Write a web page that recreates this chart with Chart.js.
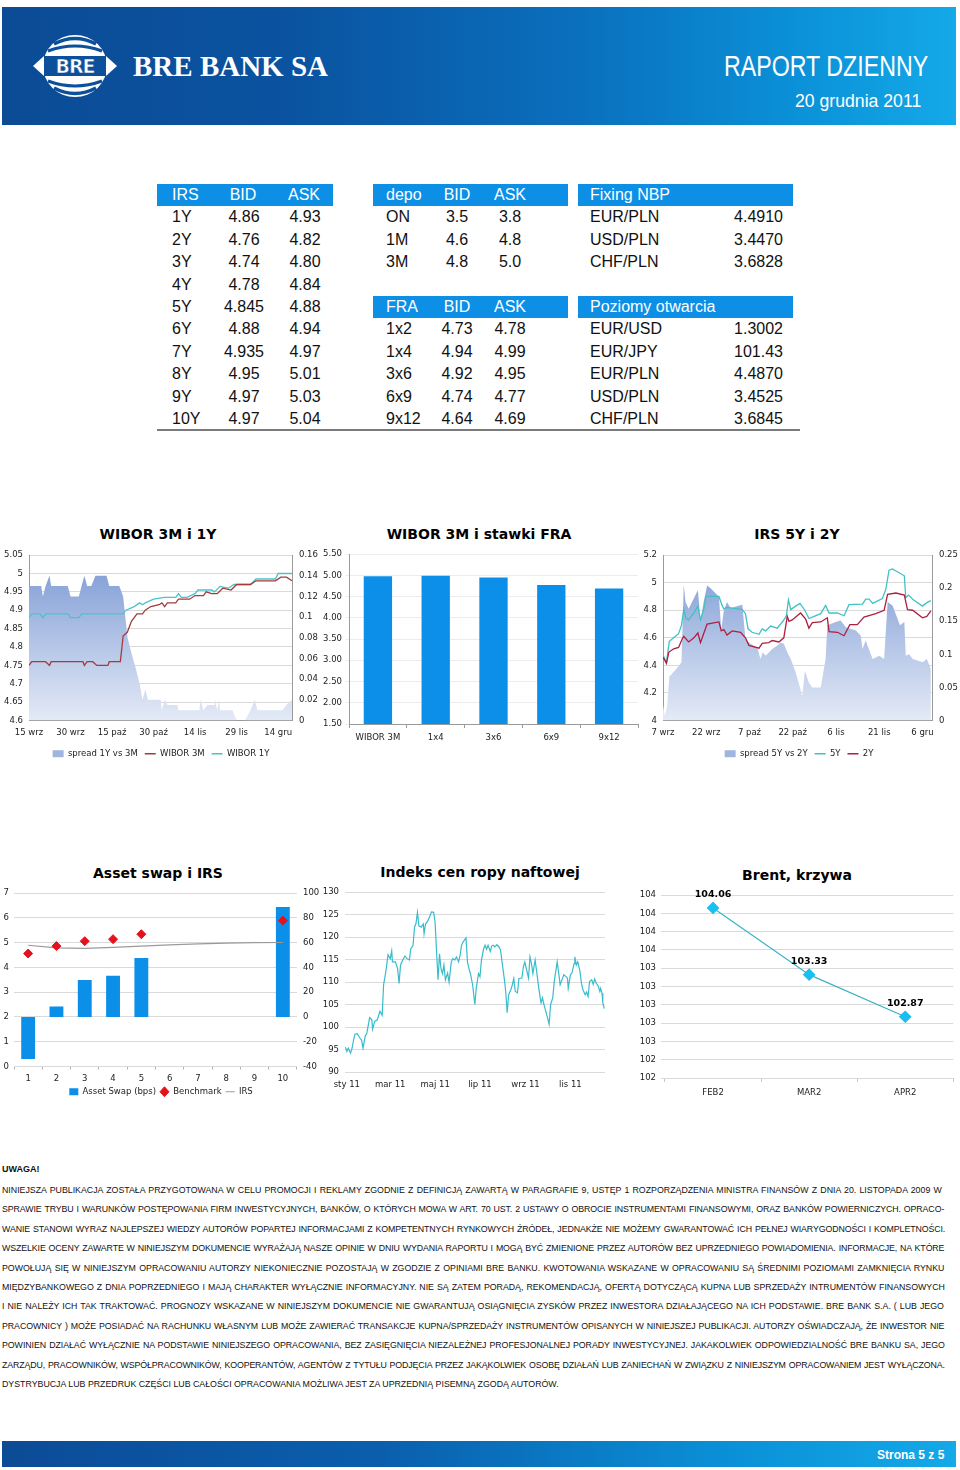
<!DOCTYPE html>
<html>
<head>
<meta charset="utf-8">
<script src="https://cdn.jsdelivr.net/npm/chart.js@4.4.1/dist/chart.umd.min.js"></script>
<style>
  body { margin:0; background:#fff; width:960px; height:1470px; position:relative; overflow:hidden;
         font-family:'Liberation Sans', Arial, sans-serif; }
  .abs { position:absolute; }
  #banner { left:2px; top:7px; width:954px; height:118px;
            background:linear-gradient(90deg,#0c4b96 0%,#0a53a0 30%,#0a6fbd 60%,#0a8fd6 82%,#14a9e8 100%); }
  #footer { left:2px; top:1441px; width:954px; height:26px;
            background:linear-gradient(90deg,#0c4b96 0%,#0a5fad 40%,#0a8fd6 75%,#14a9e8 100%); }
  .hd { background:#0d8fe6; height:22px; }
  .cell { font-size:16px; line-height:22px; height:22px; white-space:nowrap; color:#111; }
  .cell.w { color:#fff; }
  .ttl { font-family:'DejaVu Sans', Verdana, sans-serif; font-weight:bold; font-size:14px;
         transform:translateX(-50%); white-space:nowrap; color:#000; }
  .chart { position:absolute; }
  .disc { left:2px; font-size:8.8px; white-space:nowrap; color:#111; line-height:12px; }
</style>
</head>
<body>

<div id="banner" class="abs"></div>
<svg class="abs" style="left:32px;top:33px" width="86" height="66" viewBox="0 0 86 66">
  <ellipse cx="43" cy="33" rx="32" ry="31" fill="#fff"/>
  <path d="M22 11 Q43 0 64 11" stroke="#0c4f9b" stroke-width="3.5" fill="none"/>
  <path d="M16 18 Q43 8 70 18" stroke="#0c4f9b" stroke-width="3" fill="none"/>
  <path d="M16 48 Q43 58 70 48" stroke="#0c4f9b" stroke-width="3" fill="none"/>
  <path d="M22 55 Q43 66 64 55" stroke="#0c4f9b" stroke-width="3.5" fill="none"/>
  <rect x="12" y="23" width="62" height="20" fill="#0c4f9b"/>
  <polygon points="1,33 12,23 12,43" fill="#fff"/>
  <polygon points="85,33 74,23 74,43" fill="#fff"/>
  <text x="43" y="40" text-anchor="middle" font-family="DejaVu Sans" font-weight="bold" font-size="19"
        fill="#fff" stroke="#0c4f9b" stroke-width="0.6" letter-spacing="-1">BRE</text>
</svg>
<div class="abs" style="left:133px;top:50px;font-family:'Liberation Serif',serif;font-weight:bold;font-size:29px;color:#fff;white-space:nowrap;">BRE BANK SA</div>
<div class="abs" style="left:724px;top:50px;font-size:29px;color:#fff;white-space:nowrap;transform:scaleX(0.8);transform-origin:left top;">RAPORT DZIENNY</div>
<div class="abs" style="left:795px;top:91px;font-size:18px;color:#fff;white-space:nowrap;transform:scaleX(0.98);transform-origin:left top;">20 grudnia 2011</div>

<div id="tables"></div>
<div class="abs" style="left:157px;top:429px;width:643px;height:2px;background:#7a7a7a;"></div>

<div class="abs ttl" style="left:158px;top:526px;">WIBOR 3M i 1Y</div>
<div class="abs ttl" style="left:479px;top:526px;">WIBOR 3M i stawki FRA</div>
<div class="abs ttl" style="left:797px;top:526px;">IRS 5Y i 2Y</div>
<div class="abs ttl" style="left:158px;top:865px;">Asset swap i IRS</div>
<div class="abs ttl" style="left:480px;top:864px;">Indeks cen ropy naftowej</div>
<div class="abs ttl" style="left:797px;top:867px;">Brent, krzywa</div>

<div class="chart" style="left:0px;top:543px;width:322px;height:225px;"><canvas id="c1"></canvas></div>
<div class="chart" style="left:320px;top:545px;width:320px;height:205px;"><canvas id="c2"></canvas></div>
<div class="chart" style="left:638px;top:543px;width:322px;height:225px;"><canvas id="c3"></canvas></div>
<div class="chart" style="left:0px;top:882px;width:322px;height:224px;"><canvas id="c4"></canvas></div>
<div class="chart" style="left:318px;top:881px;width:300px;height:215px;"><canvas id="c5"></canvas></div>
<div class="chart" style="left:638px;top:885px;width:322px;height:215px;"><canvas id="c6"></canvas></div>

<div class="abs" style="left:2px;top:1164px;font-size:9px;font-weight:bold;color:#111;">UWAGA!</div>
<div id="disclaimer"></div>

<div id="footer" class="abs"></div>
<div class="abs" style="left:877px;top:1448px;font-size:12px;font-weight:bold;color:#fff;white-space:nowrap;">Strona 5 z 5</div>

<script>
// ---- tables ----
const irsTenor = ['1Y','2Y','3Y','4Y','5Y','6Y','7Y','8Y','9Y','10Y'];
const irsBid   = ['4.86','4.76','4.74','4.78','4.845','4.88','4.935','4.95','4.97','4.97'];
const irsAsk   = ['4.93','4.82','4.80','4.84','4.88','4.94','4.97','5.01','5.03','5.04'];

const depoTenor = ['ON','1M','3M'];
const depoBid   = ['3.5','4.6','4.8'];
const depoAsk   = ['3.8','4.8','5.0'];

const fraTenor = ['1x2','1x4','3x6','6x9','9x12'];
const fraBid   = ['4.73','4.94','4.92','4.74','4.64'];
const fraAsk   = ['4.78','4.99','4.95','4.77','4.69'];

const fixPairs = ['EUR/PLN','USD/PLN','CHF/PLN'];
const fixVals  = ['4.4910','3.4470','3.6828'];

const openPairs = ['EUR/USD','EUR/JPY','EUR/PLN','USD/PLN','CHF/PLN'];
const openVals  = ['1.3002','101.43','4.4870','3.4525','3.6845'];

// ---- WIBOR 3M i 1Y (days from 15 wrz) ----
const w1XTicks = ['15 wrz','30 wrz','15 paź','30 paź','14 lis','29 lis','14 gru'];
const w1LeftTicks  = ['4.6','4.65','4.7','4.75','4.8','4.85','4.9','4.95','5','5.05'];
const w1RightTicks = ['0','0.02','0.04','0.06','0.08','0.1','0.12','0.14','0.16'];
const w3mDays = [0,1,6,7.4,8,19.5,20,21,23,24.5,28.5,29,33,34,35.5,37,39,41,42,44,47,48,49,50,53,54,58,60,63,64,66,68,70,73,75,80,82,89,91,93,95];
const w3mVals = [4.75,4.76,4.76,4.75,4.76,4.76,4.75,4.76,4.76,4.75,4.75,4.76,4.76,4.83,4.84,4.87,4.89,4.89,4.90,4.91,4.915,4.92,4.91,4.92,4.92,4.93,4.93,4.94,4.94,4.95,4.945,4.945,4.96,4.955,4.97,4.97,4.98,4.98,4.99,4.99,4.98];
const w1yDays = [0,1,4,5,6,14,15,18,19,34,35,38,40,41,42,45,49,53,54,55,57,60,61,66,67,69,72,74,80,82,89,90,95];
const w1yVals = [4.88,4.89,4.89,4.88,4.89,4.89,4.88,4.88,4.89,4.89,4.90,4.91,4.92,4.915,4.92,4.93,4.935,4.935,4.945,4.935,4.935,4.945,4.955,4.955,4.95,4.965,4.96,4.97,4.97,4.985,4.985,5.0,5.0];
const wSpreadDays = [0,4.4,5,6,7.4,8,14,15,18,19,20,21,22.5,24,28,29,32.6,34,35.6,37,38.6,40,41,42,43,47.6,48,49,50,53.6,54,61.5,62,63,64.5,67,67.2,68,68.7,69,73.5,75,78,80,81.6,82.5,91.5,93,95];
const wSpreadVals = [0.13,0.13,0.12,0.13,0.14,0.13,0.13,0.12,0.12,0.13,0.14,0.13,0.13,0.14,0.14,0.13,0.13,0.12,0.08,0.065,0.05,0.035,0.02,0.03,0.02,0.02,0.01,0.02,0.015,0.015,0.01,0.01,0.02,0.01,0.015,0.015,0.02,0.01,0.02,0.01,0.01,0,0,0.01,0.02,0.01,0.01,0.015,0.02];

// ---- WIBOR 3M i stawki FRA ----
const fraCats = ['WIBOR 3M','1x4','3x6','6x9','9x12'];
const fraBars = [4.98, 4.99, 4.95, 4.77, 4.69];
const fraYTicks = ['1.50','2.00','2.50','3.00','3.50','4.00','4.50','5.00','5.50'];

// ---- IRS 5Y i 2Y (days from 7 wrz) ----
const irsXTicks = ['7 wrz','22 wrz','7 paź','22 paź','6 lis','21 lis','6 gru'];
const irsLeftTicks  = ['4','4.2','4.4','4.6','4.8','5','5.2'];
const irsRightTicks = ['0','0.05','0.1','0.15','0.2','0.25'];
const irs5Days = [0,1.2,2.2,3.7,5.4,6.4,7.2,8.0,8.9,10.7,12.1,13.0,14.1,14.9,19.4,20.5,21.1,22.2,27.5,28.6,29.5,30.9,33.3,34.4,35.6,37.3,39.6,41.6,42.8,43.5,44.3,46.0,47.5,49.2,50.6,51.8,54.7,56.4,57.6,60.5,62.8,64.5,69.2,70.3,71.5,72.7,76.1,77.3,78.4,79.6,83.7,84.2,85.2,86.6,90.0,91.5,92.9];
const irs5Vals = [4.475,4.42,4.575,4.60,4.63,4.69,4.805,4.74,4.73,4.78,4.83,4.73,4.805,4.90,4.90,4.835,4.81,4.82,4.805,4.775,4.665,4.64,4.625,4.665,4.65,4.685,4.67,4.72,4.76,4.875,4.805,4.83,4.85,4.80,4.74,4.75,4.775,4.835,4.78,4.78,4.76,4.84,4.845,4.88,4.88,4.85,4.885,4.955,5.09,5.10,5.05,4.89,4.91,4.88,4.83,4.855,4.87];
const irs2Days = [0,1.2,2.0,3.7,5.4,6.6,7.2,8.9,10.7,12.1,13.0,14.1,15.3,19.4,20.2,21.1,22.2,24.0,26.9,28.6,29.8,33.3,34.4,36.7,37.9,40.2,41.9,43.1,43.7,44.8,47.7,49.5,50.6,51.8,54.7,57.0,57.6,60.5,62.8,64.8,67.4,69.7,73.8,76.7,77.9,80.8,83.7,84.8,86.6,90.0,91.5,92.9];
const irs2Vals = [4.46,4.415,4.495,4.52,4.53,4.59,4.61,4.57,4.60,4.635,4.565,4.63,4.70,4.715,4.65,4.66,4.62,4.65,4.64,4.60,4.545,4.525,4.56,4.565,4.58,4.57,4.60,4.755,4.72,4.73,4.78,4.735,4.67,4.71,4.715,4.745,4.645,4.64,4.615,4.695,4.695,4.75,4.775,4.80,4.915,4.925,4.91,4.805,4.80,4.745,4.755,4.795];
const irsSpreadDays = [0,0.6,1.4,2.2,5.4,6.4,7.2,7.8,8.9,12.1,13.0,14.1,15.3,16.5,19.4,20.2,21.1,22.2,23.4,27.5,28.6,30.4,32.7,33.8,34.6,35.6,37.9,39.6,40.8,41.9,43.1,44.3,46.0,47.7,48.3,49.2,50.6,51.8,54.7,56.4,57.0,59.9,61.6,63.4,66.9,68.6,69.2,70.3,72.7,75.0,76.7,77.9,79.6,82.2,83.7,84.2,85.4,86.6,90.0,91.5,92.9];
const irsSpreadVals = [0.024,0.007,0.02,0.066,0.082,0.088,0.205,0.179,0.169,0.197,0.151,0.179,0.204,0.20,0.187,0.138,0.166,0.179,0.17,0.175,0.123,0.116,0.11,0.093,0.103,0.098,0.108,0.113,0.118,0.116,0.103,0.093,0.073,0.047,0.037,0.075,0.057,0.05,0.05,0.093,0.144,0.149,0.151,0.141,0.136,0.128,0.108,0.121,0.093,0.098,0.093,0.179,0.174,0.144,0.149,0.098,0.10,0.093,0.088,0.093,0.078];

// ---- Asset swap i IRS ----
const asCats = ['1','2','3','4','5','6','7','8','9','10'];
const asSwapBps = [-34, 8.4, 29.8, 33.2, 47.7, null, null, null, null, 88.8];
const asBenchmark = [4.56, 4.86, 5.06, 5.14, 5.34, null, null, null, null, 5.89];
const asIrs = [4.895, 4.79, 4.77, 4.81, 4.8625, 4.91, 4.9525, 4.98, 5.0, 5.005];
const asLeftTicks  = ['0','1','2','3','4','5','6','7'];
const asRightTicks = ['-40','-20','0','20','40','60','80','100'];

// ---- Indeks cen ropy naftowej (days from 1 sty 2011) ----
const oilTickDays = [0, 59, 120, 181, 243, 304];
const oilXTicks = ['sty 11','mar 11','maj 11','lip 11','wrz 11','lis 11'];
const oilYTicks = ['90','95','100','105','110','115','120','125','130'];
const oilDays = [-2,0,2,5,7,9,11,14,16,18,20,22,25,27,31,34,35,38,41,43,45,48,50,53,56,59,61,62,66,69,71,73,76,79,82,85,87,90,92,94,96,98,101,104,105,107,110,113,115,118,120,122,124,126,128,130,132,134,137,139,142,144,147,149,152,154,156,158,162,164,166,168,171,174,176,179,181,183,186,188,190,192,195,197,199,201,204,207,209,211,214,216,218,220,223,225,227,229,232,234,238,240,242,244,247,249,251,253,256,259,261,264,266,268,271,275,277,280,282,284,286,289,290,293,295,298,300,301,304,306,309,310,312,314,317,319,321,324,326,328,330,333,335,337,339,342,344,345,347,348,350];
const oilVals = [95.5,94.6,95.3,94.2,95.2,97.0,98.4,98.5,98.0,97.5,97.1,95.3,98.0,98.5,102.1,101.6,99.5,101.3,101.5,102.4,103.5,102.6,109.4,112.3,116.1,115.2,116.9,114.5,114.5,113.0,109.7,113.8,114.9,115.8,115.2,114.9,117.4,118.1,122.2,123.0,125.5,122.5,122.2,122.9,120.7,122.9,123.6,124.7,125.6,125.5,123.3,116.7,110.5,116.3,113.0,111.9,113.8,110.5,112.0,110.0,114.5,115.2,114.9,115.6,114.5,116.0,118.2,118.9,119.8,114.5,113.0,111.9,109.4,105.0,108.7,111.9,111.2,114.9,117.4,118.2,117.3,118.2,116.8,118.0,118.2,117.8,118.3,117.8,117.1,114.5,110.8,107.9,103.2,107.2,108.3,109.4,110.8,107.9,107.6,110.8,110.9,113.4,114.5,113.0,110.9,115.6,114.1,111.9,114.9,111.2,108.6,105.4,106.5,105.0,103.2,100.6,105.0,106.5,110.1,112.3,114.5,110.8,109.4,110.7,111.6,111.2,110.8,108.6,111.6,112.0,114.1,115.6,113.8,114.5,112.3,109.7,108.3,107.2,107.8,106.8,110.1,110.5,109.5,110.7,109.8,109.0,107.9,108.6,107.5,105.4,104.1];

// ---- Brent, krzywa ----
const brentCats = ['FEB2','MAR2','APR2'];
const brentVals = [104.06, 103.33, 102.87];
const brentYTicks = ['102','102','103','103','103','103','103','104','104','104','104'];

// ---- disclaimer ----
const discLines = [
  'NINIEJSZA PUBLIKACJA ZOSTAŁA PRZYGOTOWANA W CELU PROMOCJI I REKLAMY ZGODNIE Z DEFINICJĄ ZAWARTĄ W PARAGRAFIE 9, USTĘP 1 ROZPORZĄDZENIA MINISTRA FINANSÓW Z DNIA 20. LISTOPADA 2009 W',
  'SPRAWIE TRYBU I WARUNKÓW POSTĘPOWANIA FIRM INWESTYCYJNYCH, BANKÓW, O KTÓRYCH MOWA W ART. 70 UST. 2 USTAWY O OBROCIE INSTRUMENTAMI FINANSOWYMI, ORAZ BANKÓW POWIERNICZYCH. OPRACO-',
  'WANIE STANOWI WYRAZ NAJLEPSZEJ WIEDZY AUTORÓW POPARTEJ INFORMACJAMI Z KOMPETENTNYCH RYNKOWYCH ŹRÓDEŁ, JEDNAKŻE NIE MOŻEMY GWARANTOWAĆ ICH PEŁNEJ WIARYGODNOŚCI I KOMPLETNOŚCI.',
  'WSZELKIE OCENY ZAWARTE W NINIEJSZYM DOKUMENCIE WYRAŻAJĄ NASZE OPINIE W DNIU WYDANIA RAPORTU I MOGĄ BYĆ ZMIENIONE PRZEZ AUTORÓW BEZ UPRZEDNIEGO POWIADOMIENIA. INFORMACJE, NA KTÓRE',
  'POWOŁUJĄ SIĘ W NINIEJSZYM OPRACOWANIU AUTORZY NIEKONIECZNIE POZOSTAJĄ W ZGODZIE Z OPINIAMI BRE BANKU. KWOTOWANIA WSKAZANE W OPRACOWANIU SĄ ŚREDNIMI POZIOMAMI ZAMKNIĘCIA RYNKU',
  'MIĘDZYBANKOWEGO Z DNIA POPRZEDNIEGO I MAJĄ CHARAKTER WYŁĄCZNIE INFORMACYJNY. NIE SĄ ZATEM PORADĄ, REKOMENDACJĄ, OFERTĄ DOTYCZĄCĄ KUPNA LUB SPRZEDAŻY INTRUMENTÓW FINANSOWYCH',
  'I NIE NALEŻY ICH TAK TRAKTOWAĆ. PROGNOZY WSKAZANE W NINIEJSZYM DOKUMENCIE NIE GWARANTUJĄ OSIĄGNIĘCIA ZYSKÓW PRZEZ INWESTORA DZIAŁAJĄCEGO NA ICH PODSTAWIE. BRE BANK S.A. ( LUB JEGO',
  'PRACOWNICY ) MOŻE POSIADAĆ NA RACHUNKU WŁASNYM LUB MOŻE ZAWIERAĆ TRANSAKCJE KUPNA/SPRZEDAŻY INSTRUMENTÓW OPISANYCH W NINIEJSZEJ PUBLIKACJI. AUTORZY OŚWIADCZAJĄ, ŻE INWESTOR NIE',
  'POWINIEN DZIAŁAĆ WYŁĄCZNIE NA PODSTAWIE NINIEJSZEGO OPRACOWANIA, BEZ ZASIĘGNIĘCIA NIEZALEŻNEJ PROFESJONALNEJ PORADY INWESTYCYJNEJ. JAKAKOLWIEK ODPOWIEDZIALNOŚĆ BRE BANKU SA, JEGO',
  'ZARZĄDU, PRACOWNIKÓW, WSPÓŁPRACOWNIKÓW, KOOPERANTÓW, AGENTÓW Z TYTUŁU PODJĘCIA PRZEZ JAKĄKOLWIEK OSOBĘ DZIAŁAŃ LUB ZANIECHAŃ W ZWIĄZKU Z NINIEJSZYM OPRACOWANIEM JEST WYŁĄCZONA.',
  'DYSTRYBUCJA LUB PRZEDRUK CZĘŚCI LUB CAŁOŚCI OPRACOWANIA MOŻLIWA JEST ZA UPRZEDNIĄ PISEMNĄ ZGODĄ AUTORÓW.'
];

// ================= build tables =================
const tables = document.getElementById('tables');
const ROW0 = 184, ROWH = 22.4;

function band(left, width, row) {
  const d = document.createElement('div');
  d.className = 'abs hd';
  d.style.left = left + 'px'; d.style.top = (ROW0 + row * ROWH) + 'px'; d.style.width = width + 'px';
  tables.appendChild(d);
}
function cell(text, x, row, align, white) {
  const d = document.createElement('div');
  d.className = 'abs cell' + (white ? ' w' : '');
  d.textContent = text;
  d.style.top = (ROW0 + row * ROWH) + 'px';
  if (align === 'left') { d.style.left = x + 'px'; }
  else if (align === 'right') { d.style.left = (x - 100) + 'px'; d.style.width = '100px'; d.style.textAlign = 'right'; }
  else { d.style.left = (x - 40) + 'px'; d.style.width = '80px'; d.style.textAlign = 'center'; }
  tables.appendChild(d);
}

band(157, 176, 0);
cell('IRS', 172, 0, 'left', true); cell('BID', 243, 0, 'center', true); cell('ASK', 304, 0, 'center', true);
irsTenor.forEach((t, i) => { cell(t, 172, i + 1, 'left'); cell(irsBid[i], 244, i + 1, 'center'); cell(irsAsk[i], 305, i + 1, 'center'); });

band(373, 195, 0);
cell('depo', 386, 0, 'left', true); cell('BID', 457, 0, 'center', true); cell('ASK', 510, 0, 'center', true);
depoTenor.forEach((t, i) => { cell(t, 386, i + 1, 'left'); cell(depoBid[i], 457, i + 1, 'center'); cell(depoAsk[i], 510, i + 1, 'center'); });
band(373, 195, 5);
cell('FRA', 386, 5, 'left', true); cell('BID', 457, 5, 'center', true); cell('ASK', 510, 5, 'center', true);
fraTenor.forEach((t, i) => { cell(t, 386, i + 6, 'left'); cell(fraBid[i], 457, i + 6, 'center'); cell(fraAsk[i], 510, i + 6, 'center'); });

band(578, 215, 0);
cell('Fixing NBP', 590, 0, 'left', true);
fixPairs.forEach((p, i) => { cell(p, 590, i + 1, 'left'); cell(fixVals[i], 783, i + 1, 'right'); });
band(578, 215, 5);
cell('Poziomy otwarcia', 590, 5, 'left', true);
openPairs.forEach((p, i) => { cell(p, 590, i + 6, 'left'); cell(openVals[i], 783, i + 6, 'right'); });

// ================= disclaimer (justified line by line) =================
const disc = document.getElementById('disclaimer');
const mctx = document.createElement('canvas').getContext('2d');
mctx.font = "8.8px 'Liberation Sans'";
const LINE_W = 944;
discLines.forEach((line, i) => {
  const d = document.createElement('div');
  d.className = 'abs disc';
  d.style.top = (1184 + i * 19.4) + 'px';
  d.textContent = line;
  if (i < discLines.length - 1) {
    const w = mctx.measureText(line).width;
    const gaps = line.split(' ').length - 1;
    const minGap = 0.6;
    const extra = LINE_W - w;
    if (extra >= gaps * minGap) {
      d.style.wordSpacing = (extra / gaps) + 'px';
    } else {
      d.style.wordSpacing = minGap + 'px';
      d.style.letterSpacing = ((extra - gaps * minGap) / line.length) + 'px';
    }
  }
  disc.appendChild(d);
});

// ================= charts =================
const FONT = { family: "'DejaVu Sans', Verdana, sans-serif", size: 8.5 };
const TICK = '#222';
const GRID = '#dadada';
const AXIS = '#9a9a9a';

const pts = (xs, ys) => xs.map((x, i) => ({ x, y: ys[i] }));
const byIndex = (labels) => (v, i) => labels[i];
const fixW = (w) => (s) => { s.width = w; };
const fixH = (h) => (s) => { s.height = h; };
const NOGRID = { display: false, drawTicks: false };

function areaFill(top, bottom) {
  return (ctx) => {
    const a = ctx.chart.chartArea;
    if (!a) return top;
    const g = ctx.chart.ctx.createLinearGradient(0, a.top, 0, a.bottom);
    g.addColorStop(0, top); g.addColorStop(1, bottom);
    return g;
  };
}
function legendCfg(areaColor, sortFn, pad) {
  return {
    display: true, position: 'bottom',
    labels: {
      font: FONT, color: TICK, boxWidth: 11, boxHeight: 7, padding: pad, usePointStyle: true, pointStyleWidth: 11,
      sort: sortFn,
      generateLabels: (chart) => Chart.defaults.plugins.legend.labels.generateLabels(chart).map(l => {
        if (l.pointStyle === 'rect' && areaColor) { l.fillStyle = areaColor; l.strokeStyle = areaColor; l.lineWidth = 0; }
        return l;
      })
    }
  };
}
const ascending = (a, b) => a.datasetIndex - b.datasetIndex;
const descending = (a, b) => b.datasetIndex - a.datasetIndex;

Chart.defaults.animation = false;
Chart.defaults.font.family = FONT.family;

// --- 1: WIBOR 3M i 1Y
new Chart(document.getElementById('c1'), {
  type: 'line',
  data: { datasets: [
    { label: 'spread 1Y vs 3M', data: pts(wSpreadDays, wSpreadVals), yAxisID: 'y1', fill: 'origin',
      backgroundColor: areaFill('#7b99d4', '#e4eaf6'), borderWidth: 0, pointRadius: 0, pointStyle: 'rect', order: 3 },
    { label: 'WIBOR 3M', data: pts(w3mDays, w3mVals), yAxisID: 'y', borderColor: '#a23c3c', borderWidth: 1.3,
      pointRadius: 0, pointStyle: 'line', fill: false, order: 1 },
    { label: 'WIBOR 1Y', data: pts(w1yDays, w1yVals), yAxisID: 'y', borderColor: '#4cc3c9', borderWidth: 1.3,
      pointRadius: 0, pointStyle: 'line', fill: false, order: 2 }
  ]},
  options: {
    responsive: true, maintainAspectRatio: false, layout: { padding: 0 },
    plugins: { legend: legendCfg('#9fb4e0', ascending, 7), tooltip: { enabled: false } },
    scales: {
      x: { type: 'linear', min: 0, max: 95, afterFit: fixH(22),
           ticks: { stepSize: 15, includeBounds: false, font: FONT, color: TICK, padding: 7, maxRotation: 0,
                    callback: (v) => (v % 15 === 0 ? w1XTicks[v / 15] : '') },
           grid: NOGRID, border: { color: AXIS } },
      y: { position: 'left', min: 4.6, max: 5.05, afterFit: fixW(29),
           ticks: { stepSize: 0.05, font: FONT, color: TICK, padding: 6, callback: byIndex(w1LeftTicks) },
           grid: { color: GRID, drawTicks: false }, border: { color: AXIS } },
      y1: { position: 'right', min: 0, max: 0.16, afterFit: fixW(30),
            ticks: { stepSize: 0.02, font: FONT, color: TICK, padding: 7, callback: byIndex(w1RightTicks) },
            grid: NOGRID, border: { color: AXIS } }
    }
  }
});

// --- 2: WIBOR 3M i stawki FRA
new Chart(document.getElementById('c2'), {
  type: 'bar',
  data: { labels: fraCats, datasets: [
    { label: 'FRA', data: fraBars, backgroundColor: '#0b8fe8', barPercentage: 0.98, categoryPercentage: 0.5 }
  ]},
  options: {
    responsive: true, maintainAspectRatio: false, layout: { padding: { right: 2 } },
    plugins: { legend: { display: false }, tooltip: { enabled: false } },
    scales: {
      x: { afterFit: fixH(26),
           ticks: { font: FONT, color: TICK, padding: 5, maxRotation: 0 },
           grid: { display: true, drawOnChartArea: false, offset: true, tickLength: 4, color: AXIS },
           border: { color: AXIS } },
      y: { min: 1.5, max: 5.5, afterFit: fixW(29),
           ticks: { stepSize: 0.5, font: FONT, color: TICK, padding: 4, callback: byIndex(fraYTicks) },
           grid: { color: '#ececec', tickLength: 3 }, border: { color: AXIS } }
    }
  }
});

// --- 3: IRS 5Y i 2Y
new Chart(document.getElementById('c3'), {
  type: 'line',
  data: { datasets: [
    { label: 'spread 5Y vs 2Y', data: pts(irsSpreadDays, irsSpreadVals), yAxisID: 'y1', fill: 'origin',
      backgroundColor: areaFill('#7b99d4', '#e4eaf6'), borderWidth: 0, pointRadius: 0, pointStyle: 'rect', order: 3 },
    { label: '5Y', data: pts(irs5Days, irs5Vals), yAxisID: 'y', borderColor: '#40c2c4', borderWidth: 1.3,
      pointRadius: 0, pointStyle: 'line', fill: false, order: 2 },
    { label: '2Y', data: pts(irs2Days, irs2Vals), yAxisID: 'y', borderColor: '#b01e40', borderWidth: 1.3,
      pointRadius: 0, pointStyle: 'line', fill: false, order: 1 }
  ]},
  options: {
    responsive: true, maintainAspectRatio: false, layout: { padding: 0 },
    plugins: { legend: legendCfg('#9fb4e0', ascending, 7), tooltip: { enabled: false } },
    scales: {
      x: { type: 'linear', min: 0, max: 93.3, afterFit: fixH(22),
           ticks: { stepSize: 15, includeBounds: false, font: FONT, color: TICK, padding: 7, maxRotation: 0,
                    callback: (v) => (v % 15 === 0 ? irsXTicks[v / 15] : '') },
           grid: NOGRID, border: { color: AXIS } },
      y: { position: 'left', min: 4, max: 5.2, afterFit: fixW(25),
           ticks: { stepSize: 0.2, font: FONT, color: TICK, padding: 6, callback: byIndex(irsLeftTicks) },
           grid: { color: GRID, drawTicks: false }, border: { color: AXIS } },
      y1: { position: 'right', min: 0, max: 0.25, afterFit: fixW(28),
            ticks: { stepSize: 0.05, font: FONT, color: TICK, padding: 7, callback: byIndex(irsRightTicks) },
            grid: NOGRID, border: { color: AXIS } }
    }
  }
});

// --- 4: Asset swap i IRS
new Chart(document.getElementById('c4'), {
  type: 'bar',
  data: { labels: asCats, datasets: [
    { type: 'line', label: 'IRS', data: asIrs, yAxisID: 'y', borderColor: '#9a9a9a', borderWidth: 1.2,
      pointRadius: 0, pointStyle: 'line', fill: false, order: 2 },
    { type: 'line', label: 'Benchmark', data: asBenchmark, yAxisID: 'y', showLine: false,
      pointStyle: 'rectRot', pointRadius: 4.5, backgroundColor: '#e3121c', borderColor: '#e3121c', order: 1 },
    { label: 'Asset Swap (bps)', data: asSwapBps, yAxisID: 'y1', backgroundColor: '#0b8fe8', borderColor: '#0b8fe8',
      pointStyle: 'rect', barPercentage: 0.98, categoryPercentage: 0.5, order: 3 }
  ]},
  options: {
    responsive: true, maintainAspectRatio: false, layout: { padding: 0 },
    plugins: {
      legend: { display: true, position: 'bottom',
                labels: { font: FONT, color: TICK, boxWidth: 9, boxHeight: 7, padding: 4, usePointStyle: true,
                          pointStyleWidth: 9, sort: descending } },
      tooltip: { enabled: false }
    },
    scales: {
      x: { afterFit: fixH(17),
           ticks: { font: FONT, color: TICK, padding: 4, maxRotation: 0 },
           grid: { display: true, drawOnChartArea: false, offset: true, tickLength: 3, color: '#b0b0b0' },
           border: { display: false } },
      y: { position: 'left', min: 0, max: 7, afterFit: fixW(14),
           ticks: { stepSize: 1, font: FONT, color: TICK, padding: 5, callback: byIndex(asLeftTicks) },
           grid: { color: GRID, drawTicks: false }, border: { display: false } },
      y1: { position: 'right', min: -40, max: 100, afterFit: fixW(25),
            ticks: { stepSize: 20, font: FONT, color: TICK, padding: 6, callback: byIndex(asRightTicks) },
            grid: NOGRID, border: { display: false } }
    }
  }
});

// --- 5: Indeks cen ropy naftowej
new Chart(document.getElementById('c5'), {
  type: 'line',
  data: { datasets: [
    { label: 'ropa', data: pts(oilDays, oilVals), borderColor: '#38bccb', borderWidth: 1.2, pointRadius: 0, fill: false }
  ]},
  options: {
    responsive: true, maintainAspectRatio: false, layout: { padding: { right: 13 } },
    plugins: { legend: { display: false }, tooltip: { enabled: false } },
    scales: {
      x: { type: 'linear', min: -2.5, max: 351, afterFit: fixH(24),
           afterBuildTicks: (s) => { s.ticks = oilTickDays.map(v => ({ value: v })); },
           ticks: { font: FONT, color: TICK, padding: 8, maxRotation: 0, autoSkip: false, callback: byIndex(oilXTicks) },
           grid: NOGRID, border: { display: false } },
      y: { min: 90, max: 130, afterFit: fixW(27),
           ticks: { stepSize: 5, font: FONT, color: TICK, padding: 6, callback: byIndex(oilYTicks) },
           grid: { color: GRID, drawTicks: false }, border: { display: false } }
    }
  }
});

// --- 6: Brent, krzywa
const brentLabels = {
  id: 'brentLabels',
  afterDatasetsDraw(chart) {
    const { ctx } = chart;
    const meta = chart.getDatasetMeta(0);
    ctx.save();
    ctx.font = "bold 9.5px 'DejaVu Sans'";
    ctx.fillStyle = '#000'; ctx.textAlign = 'center'; ctx.textBaseline = 'middle';
    meta.data.forEach((p, i) => ctx.fillText(brentVals[i].toFixed(2), p.x, p.y - 13));
    ctx.restore();
  }
};
new Chart(document.getElementById('c6'), {
  type: 'line',
  data: { labels: brentCats, datasets: [
    { label: 'Brent', data: brentVals, borderColor: '#3ab4c0', borderWidth: 1.2, fill: false,
      pointStyle: 'rectRot', pointRadius: 5.5, pointBackgroundColor: '#19bff0', pointBorderColor: '#19bff0' }
  ]},
  plugins: [brentLabels],
  options: {
    responsive: true, maintainAspectRatio: false, layout: { padding: { right: 3 } },
    plugins: { legend: { display: false }, tooltip: { enabled: false } },
    scales: {
      x: { offset: true, afterFit: fixH(22),
           ticks: { font: FONT, color: TICK, padding: 6, maxRotation: 0 },
           grid: { display: true, drawOnChartArea: false, offset: true, tickLength: 4, color: '#c8c8c8' },
           border: { display: false } },
      y: { min: 102.2, max: 104.2, afterFit: fixW(27),
           ticks: { stepSize: 0.2, font: FONT, color: TICK, padding: 5, callback: byIndex(brentYTicks) },
           grid: { color: GRID, tickLength: 4 }, border: { display: false } }
    }
  }
});
</script>
</body>
</html>
